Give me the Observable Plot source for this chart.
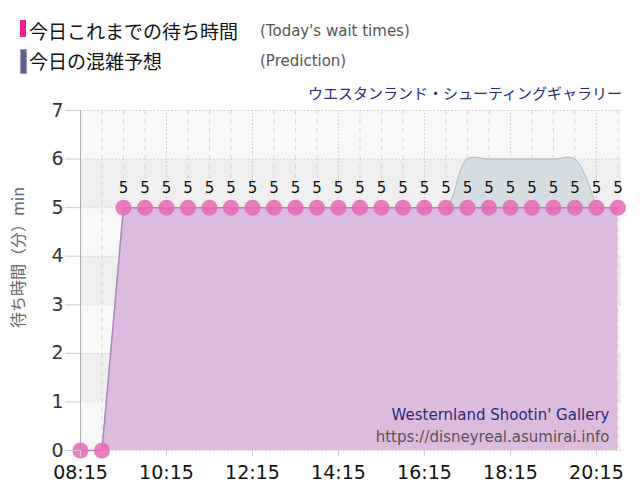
<!DOCTYPE html>
<html>
<head>
<meta charset="utf-8">
<script src="https://cdn.jsdelivr.net/npm/d3@7"></script>
<script src="https://cdn.jsdelivr.net/npm/@observablehq/plot@0.6"></script>
<style>
  body { margin: 0; background: #fff; font-family: "DejaVu Sans", Verdana, sans-serif; }
  #head { position: relative; width: 640px; height: 100px; }
  .bar { position: absolute; }
  .jp { position: absolute; font-family: "Noto Sans CJK JP", sans-serif; font-size: 19px; color: #111; white-space: nowrap; line-height: 1; }
  .en { position: absolute; font-family: "DejaVu Sans", Verdana, sans-serif; font-size: 15px; color: #555; white-space: nowrap; line-height: 1; }
  #title { position: absolute; right: 18px; top: 85px; font-family: "Noto Sans CJK JP", sans-serif; font-size: 15px; color: #2b2b7b; white-space: nowrap; line-height: 1; }
</style>
</head>
<body>
<div id="head">
  <div class="bar" style="left:20px;top:20px;width:6px;height:17px;background:#f0208c;"></div>
  <div class="jp" style="left:29px;top:21px;">今日これまでの待ち時間</div>
  <div class="en" style="left:260px;top:24px;">(Today's wait times)</div>
  <div class="bar" style="left:20px;top:49px;width:5px;height:23px;background:#5f5f8f;border:1px solid #9a9ab0;"></div>
  <div class="jp" style="left:29px;top:51px;">今日の混雑予想</div>
  <div class="en" style="left:260px;top:54px;">(Prediction)</div>
  <div id="title">ウエスタンランド・シューティングギャラリー</div>
</div>
<div id="chart"></div>
<script>
const attraction = "ウエスタンランド・シューティングギャラリー";
const waitTimes = ["08:15","08:45","09:15","09:45","10:15","10:45","11:15","11:45","12:15","12:45","13:15","13:45","14:15","14:45","15:15","15:45","16:15","16:45","17:15","17:45","18:15","18:45","19:15","19:45","20:15","20:45"];
const waitValues = [0,0,5,5,5,5,5,5,5,5,5,5,5,5,5,5,5,5,5,5,5,5,5,5,5,5];
const predTimes = ["09:15","09:45","10:15","10:45","11:15","11:45","12:15","12:45","13:15","13:45","14:15","14:45","15:15","15:45","16:15","16:45","17:15","17:45","18:15","18:45","19:15","19:45","20:15"];
const predValues = [5,5,5,5,5,5,5,5,5,5,5,5,5,5,5,5,6,6,6,6,6,6,5];
const xTickLabels = ["08:15","10:15","12:15","14:15","16:15","18:15","20:15"];
const yTicks = [0,1,2,3,4,5,6,7];
const bands = [0,1,2,3,4,5,6];
const gridTimes = ["08:45","09:15","09:45","10:45","11:15","11:45","12:45","13:15","13:45","14:45","15:15","15:45","16:45","17:15","17:45","18:45","19:15","19:45","20:45"];
const domainTimes = ["08:15","20:50"];

const t = s => { const [h, m] = s.split(":").map(Number); return new Date(Date.UTC(2024, 0, 1, h, m)); };
const wait = waitTimes.map((s, i) => ({x: t(s), y: waitValues[i]}));
const pred = predTimes.map((s, i) => ({x: t(s), y: predValues[i]}));
const xDomain = domainTimes.map(t);
const font = "DejaVu Sans, Verdana, sans-serif";

const chart = Plot.plot({
  width: 640,
  height: 400,
  marginTop: 10,
  marginBottom: 50,
  marginLeft: 80,
  marginRight: 19,
  style: {fontFamily: font, background: "white", overflow: "visible"},
  x: {type: "utc", domain: xDomain},
  y: {domain: [0, 7]},
  marks: [
    Plot.rect(bands, {x1: xDomain[0], x2: xDomain[1], y1: d => d, y2: d => d + 1, fill: d => d % 2 === 0 ? "#f8f8f8" : "#efefef"}),
    Plot.ruleX(gridTimes.map(t), {stroke: "#d8d8d8", strokeDasharray: "5,4"}),
    Plot.ruleX(xTickLabels.map(t), {stroke: "#c8c8c8", strokeDasharray: "1.5,2", y1: 0, y2: 7}),
    Plot.ruleY(yTicks, {stroke: "#cfcfcf", strokeDasharray: "1.5,2"}),
    Plot.areaY(pred, {x: "x", y: "y", curve: "catmull-rom", fill: "#d5dde3"}),
    Plot.lineY(pred, {x: "x", y: "y", curve: "catmull-rom", stroke: "#aeb8c0", strokeWidth: 1}),
    Plot.areaY(wait, {x: "x", y: "y", fill: "#dcbcdc"}),
    Plot.lineY(wait, {x: "x", y: "y", stroke: "#a888c0", strokeWidth: 1.5}),
    Plot.ruleX([xDomain[0]], {stroke: "#b0b0b0"}),
    Plot.dot(wait, {x: "x", y: "y", r: 8, fill: "#e868b2", fillOpacity: 0.85}),
    Plot.text(wait.filter(d => d.y > 0), {x: "x", y: "y", text: d => String(d.y), dy: -19, fontSize: 15, fill: "#111"}),
    Plot.axisY({ticks: yTicks, tickFormat: d3.format("d"), tickSize: 15, tickPadding: 2, stroke: "#cccccc", fill: "#333", fontSize: 19, label: null}),
    Plot.axisX({ticks: xTickLabels.map(t), tickFormat: d3.utcFormat("%H:%M"), tickSize: 6, tickPadding: 9, stroke: "#d0d0d0", fill: "#111", fontSize: 19, label: null}),
    Plot.text(["待ち時間（分）min"], {frameAnchor: "left", textAnchor: "middle", lineAnchor: "middle", rotate: -90, dx: -62, dy: -23, fontSize: 16, fill: "#666", fontFamily: "Noto Sans CJK JP, sans-serif"}),
    Plot.text(["Westernland Shootin' Gallery"], {frameAnchor: "bottom-right", textAnchor: "end", lineAnchor: "middle", dx: -12, dy: -35, fontSize: 15, fill: "#2b2b7b"}),
    Plot.text(["https://disneyreal.asumirai.info"], {frameAnchor: "bottom-right", textAnchor: "end", lineAnchor: "middle", dx: -12, dy: -13, fontSize: 15, fill: "#555"})
  ]
});
document.getElementById("chart").appendChild(chart);
</script>
</body>
</html>
